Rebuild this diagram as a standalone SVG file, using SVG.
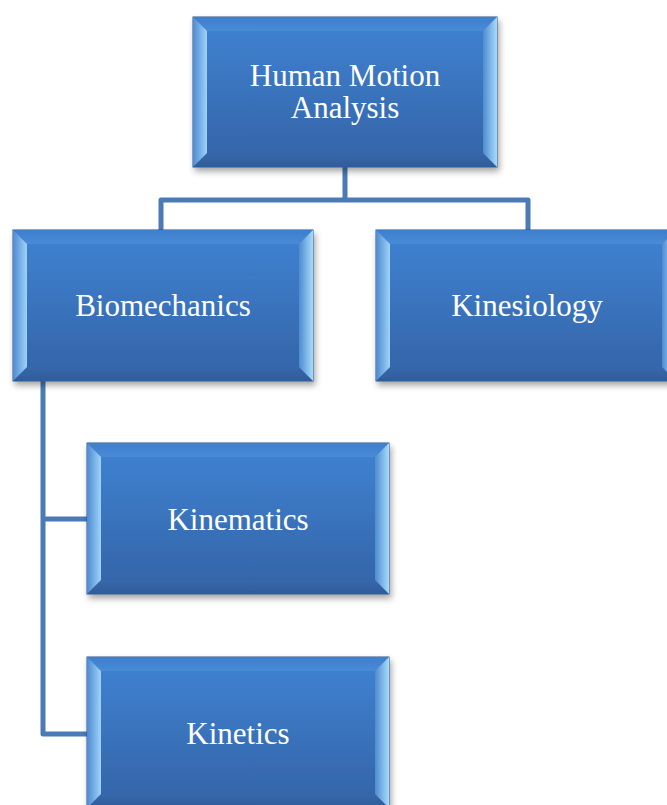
<svg xmlns="http://www.w3.org/2000/svg" width="667" height="805" viewBox="0 0 667 805">
  <defs>
    <linearGradient id="face" x1="0" y1="0" x2="0" y2="1">
      <stop offset="0" stop-color="#3f83d3"/>
      <stop offset="1" stop-color="#3463a6"/>
    </linearGradient>
    <linearGradient id="bevelL" x1="0" y1="0" x2="1" y2="0">
      <stop offset="0" stop-color="#4d8ad0"/>
      <stop offset="1" stop-color="#9fd3fa"/>
    </linearGradient>
    <linearGradient id="bevelR" x1="0" y1="0" x2="1" y2="0">
      <stop offset="0" stop-color="#4f8bd0"/>
      <stop offset="1" stop-color="#a6dcfc"/>
    </linearGradient>
    <linearGradient id="bevelT" x1="0" y1="0" x2="0" y2="1">
      <stop offset="0" stop-color="#3d7fce"/>
      <stop offset="1" stop-color="#4a8bd6"/>
    </linearGradient>
    <linearGradient id="bevelB" x1="0" y1="0" x2="0" y2="1">
      <stop offset="0" stop-color="#3868ab"/>
      <stop offset="1" stop-color="#2f5c9a"/>
    </linearGradient>
    <filter id="shadow" x="-10%" y="-10%" width="125%" height="130%">
      <feDropShadow dx="2" dy="4" stdDeviation="3" flood-color="#000" flood-opacity="0.35"/>
    </filter>
  </defs>
  <style>
    .edge { fill: none; stroke: #4a7bb6; stroke-width: 5; stroke-linejoin: round; stroke-linecap: butt; }
    .frame { fill: url(#face); stroke: #2b5890; stroke-width: 1; filter: url(#shadow); }
    .bl { fill: url(#bevelL); }
    .br { fill: url(#bevelR); }
    .bt { fill: url(#bevelT); }
    .bb { fill: url(#bevelB); }
    .label { font-family: "Liberation Serif", "Times New Roman", serif; font-size: 31px; fill: #ffffff; text-anchor: middle; }
  </style>

  <rect width="667" height="805" fill="#ffffff"/>

  <g id="connectors">
    <path class="edge" d="M345 167 V200 M161 230 V200 H528 V230"/>
    <path class="edge" d="M43 381 V734 H87 M43 519 H87"/>
  </g>

  <!-- root: x193 y17 w304 h150, bevel 14 -->
  <g id="node-human-motion-analysis">
    <rect class="frame" x="193" y="17" width="304" height="150"/>
    <polygon class="bt" points="193,17 497,17 483,31 207,31"/>
    <polygon class="bb" points="193,167 497,167 483,153 207,153"/>
    <polygon class="bl" points="193,17 207,31 207,153 193,167"/>
    <polygon class="br" points="497,17 483,31 483,153 497,167"/>
    <text class="label" x="345" y="86">Human Motion</text>
    <text class="label" x="345" y="118">Analysis</text>
  </g>

  <g id="node-biomechanics">
    <rect class="frame" x="13" y="230" width="300" height="151"/>
    <polygon class="bt" points="13,230 313,230 299,244 27,244"/>
    <polygon class="bb" points="13,381 313,381 299,367 27,367"/>
    <polygon class="bl" points="13,230 27,244 27,367 13,381"/>
    <polygon class="br" points="313,230 299,244 299,367 313,381"/>
    <text class="label" x="163" y="316">Biomechanics</text>
  </g>

  <g id="node-kinesiology">
    <rect class="frame" x="376" y="230" width="300" height="151"/>
    <polygon class="bt" points="376,230 676,230 662,244 390,244"/>
    <polygon class="bb" points="376,381 676,381 662,367 390,367"/>
    <polygon class="bl" points="376,230 390,244 390,367 376,381"/>
    <polygon class="br" points="676,230 662,244 662,367 676,381"/>
    <text class="label" x="527" y="316">Kinesiology</text>
  </g>

  <g id="node-kinematics">
    <rect class="frame" x="87" y="443" width="302" height="151"/>
    <polygon class="bt" points="87,443 389,443 375,457 101,457"/>
    <polygon class="bb" points="87,594 389,594 375,580 101,580"/>
    <polygon class="bl" points="87,443 101,457 101,580 87,594"/>
    <polygon class="br" points="389,443 375,457 375,580 389,594"/>
    <text class="label" x="238" y="530">Kinematics</text>
  </g>

  <g id="node-kinetics">
    <rect class="frame" x="87" y="657" width="302" height="151"/>
    <polygon class="bt" points="87,657 389,657 375,671 101,671"/>
    <polygon class="bb" points="87,808 389,808 375,794 101,794"/>
    <polygon class="bl" points="87,657 101,671 101,794 87,808"/>
    <polygon class="br" points="389,657 375,671 375,794 389,808"/>
    <text class="label" x="238" y="744">Kinetics</text>
  </g>
</svg>
